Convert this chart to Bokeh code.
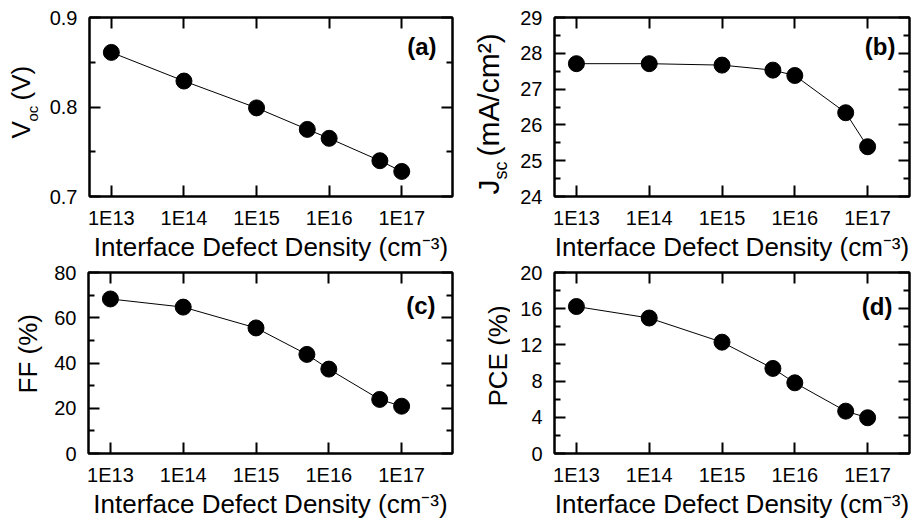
import math
from bokeh.plotting import figure
from bokeh.models import Range1d, FixedTicker, LogAxis, LinearAxis, Label
from bokeh.layouts import column, row
from bokeh.embed import file_html
from bokeh.resources import INLINE

# ---------------- data ----------------
density = [1e13, 1e14, 1e15, 5e15, 1e16, 5e16, 1e17]
voc = [0.861, 0.829, 0.799, 0.775, 0.765, 0.740, 0.728]
jsc = [27.71, 27.71, 27.67, 27.53, 27.38, 26.34, 25.39]
ff = [68.3, 64.7, 55.5, 43.8, 37.3, 23.9, 20.9]
pce = [16.24, 14.97, 12.3, 9.4, 7.81, 4.68, 3.95]

x_ticks = [1e13, 1e14, 1e15, 1e16, 1e17]
x_tick_labels = ["1E13", "1E14", "1E15", "1E16", "1E17"]
x_title = "Interface Defect Density (cm\u207b\u00b3)"

voc_ticks, voc_minor = [0.7, 0.8, 0.9], [0.75, 0.85]
jsc_ticks, jsc_minor = [24, 25, 26, 27, 28, 29], [24.5, 25.5, 26.5, 27.5, 28.5]
ff_ticks, ff_minor = [0, 20, 40, 60, 80], [10, 30, 50, 70]
pce_ticks, pce_minor = [0, 4, 8, 12, 16, 20], [2, 6, 10, 14, 18]

FONT = "Liberation Sans"
X_START = 5e12


def style_axis(ax, show_labels, is_x):
    ax.axis_line_width = 2
    ax.axis_line_color = "black"
    ax.major_tick_in = 11
    ax.major_tick_out = 0
    ax.minor_tick_in = 6
    ax.minor_tick_out = 0
    ax.major_tick_line_width = 2
    ax.minor_tick_line_width = 2
    ax.major_tick_line_color = "black"
    ax.minor_tick_line_color = "black"
    ax.major_label_text_font = FONT
    if show_labels:
        ax.major_label_text_color = "black"
        ax.major_label_text_font_size = "20px"
        ax.major_label_standoff = 10 if is_x else 12
    else:
        ax.major_label_text_alpha = 0
        ax.major_label_text_font_size = "1px"
        ax.major_label_standoff = 0


def make_panel(y, y_lo, y_hi, yt, ym, letter, width, height, mbl, mbr, mbt, mbb, x_end,
               letter_dx, letter_dy, ylabel_parts, lw):
    # main plot
    pw = width - lw
    p = figure(width=pw, height=height, x_axis_type="log",
               x_range=Range1d(X_START, x_end), y_range=Range1d(y_lo, y_hi),
               output_backend="svg", toolbar_location=None,
               min_border_left=mbl - lw, min_border_right=mbr,
               min_border_top=mbt, min_border_bottom=mbb)
    p.grid.visible = False
    p.outline_line_color = "black"
    p.outline_line_width = 2
    p.background_fill_color = "white"
    p.border_fill_color = "white"

    p.line(density, y, line_color="black", line_width=1)
    p.scatter(density, y, size=16, color="black")

    xb = p.xaxis[0]
    xb.ticker = FixedTicker(ticks=x_ticks)
    xb.major_label_overrides = {str(t): s for t, s in zip(x_ticks, x_tick_labels)} | dict(zip(x_ticks, x_tick_labels))
    style_axis(xb, True, True)
    xb.axis_label = x_title
    xb.axis_label_text_font = FONT
    xb.axis_label_text_font_size = "26px"
    xb.axis_label_text_font_style = "normal"
    xb.axis_label_text_color = "black"
    xb.axis_label_standoff = 0

    yl = p.yaxis[0]
    yl.ticker = FixedTicker(ticks=yt, minor_ticks=ym)
    style_axis(yl, True, False)

    xa = LogAxis(ticker=FixedTicker(ticks=x_ticks))
    style_axis(xa, False, True)
    p.add_layout(xa, "above")
    yr = LinearAxis(ticker=FixedTicker(ticks=yt, minor_ticks=ym))
    style_axis(yr, False, False)
    p.add_layout(yr, "right")

    fw = pw - (mbl - lw) - mbr
    fh = height - mbt - mbb
    p.add_layout(Label(x=fw - letter_dx, y=fh - letter_dy, x_units="screen", y_units="screen",
                       text=letter, text_align="right", text_baseline="middle",
                       text_font=FONT, text_font_size="24px", text_font_style="bold",
                       text_color="black"))

    # narrow canvas holding the rotated y-axis title (its frame lines up with the plot frame)
    t = figure(width=lw, height=height, x_range=Range1d(0, 1), y_range=Range1d(0, 1),
               x_axis_location=None, y_axis_location=None,
               output_backend="svg", toolbar_location=None,
               min_border_left=0, min_border_right=0, min_border_top=mbt, min_border_bottom=mbb)
    t.grid.visible = False
    t.outline_line_color = None
    t.background_fill_color = "white"
    t.border_fill_color = "white"
    for (txt, dx, dy, size) in ylabel_parts:
        t.add_layout(Label(x=mbl + dx - 0.4 * size, y=dy, x_units="screen", y_units="screen",
                           text=txt, angle=math.pi / 2, text_align="left",
                           text_baseline="alphabetic", text_font=FONT,
                           text_font_size=f"{size}px", text_color="black"))
    return row(t, p)


W1, W2 = 470, 441
H1, H2 = 264, 257

# y-label pieces: (text, baseline x rel. frame left, start y rel. frame bottom, font px)
lab_a = [("V", -57, 58, 26), ("oc", -50, 75, 15), ("(V)", -57, 96, 26)]
lab_b = [("J", -54, 2, 30), ("sc", -46, 17, 18), ("(mA/cm\u00b2)", -54, 40, 30)]
lab_c = [("FF (%)", -50, 60, 26)]
lab_d = [("PCE (%)", -46, 47, 26)]

fw_a = W1 - 88 - 18
fw_b = W2 - 84 - 2
x_end_a = 5e17
x_end_b = X_START * (x_end_a / X_START) ** (fw_b / fw_a)

ra = make_panel(voc, 0.7, 0.9, voc_ticks, voc_minor, "(a)", W1, H1, 88, 18, 17, 64, x_end_a, 17, 33, lab_a, 46)
rb = make_panel(jsc, 24, 29, jsc_ticks, jsc_minor, "(b)", W2, H1, 84, 2, 17, 64, x_end_b, 14, 33, lab_b, 40)
rc = make_panel(ff, 0, 80, ff_ticks, ff_minor, "(c)", W1, H2, 88, 18, 8, 66, x_end_a, 17, 35, lab_c, 46)
rd = make_panel(pce, 0, 20, pce_ticks, pce_minor, "(d)", W2, H2, 84, 2, 8, 66, x_end_b, 17, 36, lab_d, 40)

layout = column(row(ra, rb), row(rc, rd))

with open("out.html", "w") as f:
    f.write(file_html(layout, INLINE))
